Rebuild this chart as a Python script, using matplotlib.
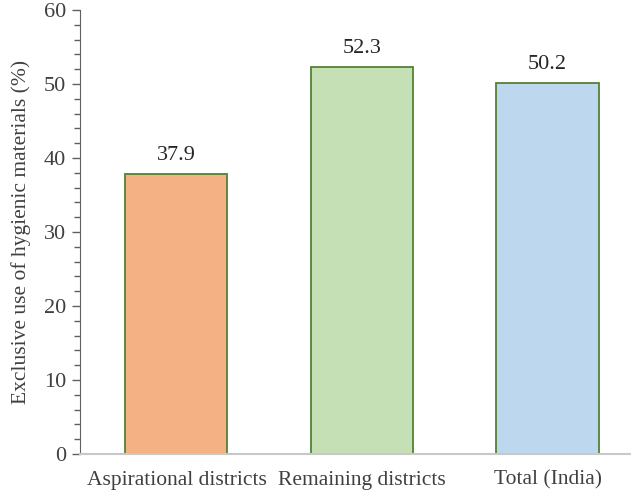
import matplotlib.pyplot as plt
from matplotlib.ticker import MultipleLocator

categories = ["Aspirational districts", "Remaining districts", "Total (India)"]
values = [37.9, 52.3, 50.2]
colors = ["#F4B183", "#C5E0B4", "#BDD7EE"]

plt.rcParams['font.family'] = ['Liberation Serif', 'DejaVu Serif']

fig = plt.figure(figsize=(6.31, 4.94), dpi=100)
ax = fig.add_axes([80 / 631, 40 / 494, 551 / 631, 444 / 494])

x = range(len(categories))
bars = ax.bar(x, values, width=0.55, color=colors, edgecolor="#538135", linewidth=1.3)
for b, v in zip(bars, values):
    ax.text(b.get_x() + b.get_width() / 2, v + 1.2, f"{v:.1f}",
            ha="center", va="bottom", fontsize=16, color="#262626")

ax.set_xlim(-0.52, 2.45)
ax.set_ylim(0, 60)
ax.set_xticks(list(x))
ax.set_xticklabels(categories, fontsize=15.5, color="#404040")
ax.yaxis.set_major_locator(MultipleLocator(10))
ax.yaxis.set_minor_locator(MultipleLocator(2))
ax.tick_params(axis="y", which="major", length=6, width=1, color="#606060",
               labelsize=16, labelcolor="#404040", pad=4)
ax.tick_params(axis="y", which="minor", length=4, width=1, color="#606060")
ax.tick_params(axis="x", length=0, pad=12)

ax.spines["top"].set_visible(False)
ax.spines["right"].set_visible(False)
ax.spines["left"].set_color("#606060")
ax.spines["bottom"].set_color("#C8C8C8")
ax.spines["bottom"].set_linewidth(1.5)

ax.set_ylabel("Exclusive use of hygienic materials (%)", fontsize=15.5, color="#404040", labelpad=9)

fig.savefig("out.png", dpi=100)
